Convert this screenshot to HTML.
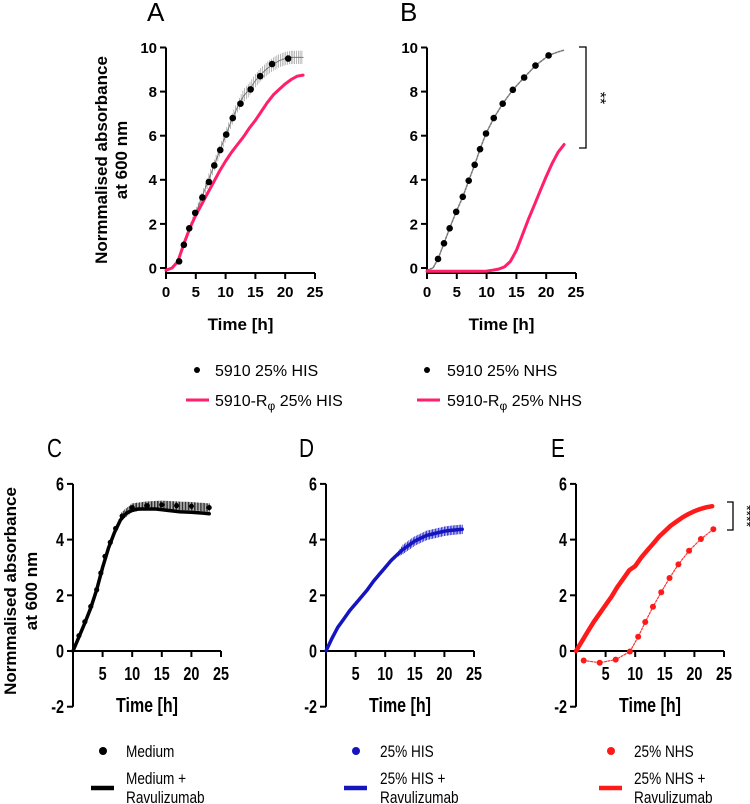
<!DOCTYPE html>
<html><head><meta charset="utf-8"><style>
html,body{margin:0;padding:0;background:#fff;}
svg{display:block;}
.t{font-family:"Liberation Sans",Arial,sans-serif;}
.n{font-family:"Liberation Sans Narrow","Liberation Sans",Arial,sans-serif;}
</style></head><body>
<svg id="fig" width="750" height="804" viewBox="0 0 750 804" xmlns="http://www.w3.org/2000/svg">
<g id="root"></g>
</svg>
<script>
// ---- data ----
const aDotT = [2.2,3,3.9,4.9,6.1,7.2,8.1,9.1,10.1,11.2,12.5,14.2,15.8,17.8,20.5];
const aDotV = [0.3,1.05,1.8,2.5,3.2,3.9,4.65,5.35,6.05,6.8,7.45,8.1,8.7,9.25,9.5];
const aMeanT = [0,1,2,3,4,5,6,7,8,9,10,11,12,13,14,15,16,17,18,19,20,21,22,23];
const aMeanV = [-0.1,0,0.25,1.05,1.8,2.5,3.2,3.9,4.6,5.3,6.0,6.7,7.3,7.8,8.1,8.5,8.8,9.05,9.25,9.4,9.5,9.55,9.55,9.55];
const aMeanSd = [0,0,0.05,0.1,0.15,0.2,0.2,0.25,0.25,0.25,0.25,0.25,0.25,0.3,0.3,0.3,0.3,0.3,0.3,0.3,0.3,0.3,0.3,0.3];
const aPinkT = [0,1,2,3,4,5,6,7,8,9,10,11,12,13,14,15,16,17,18,19,20,21,22,23];
const aPinkV = [-0.1,0,0.3,1.1,1.8,2.4,2.9,3.4,3.9,4.4,4.85,5.25,5.6,5.95,6.35,6.7,7.1,7.5,7.85,8.1,8.35,8.55,8.7,8.75];

const bDotT = [1.85,2.85,3.8,4.9,6.0,7.0,8.0,8.9,9.9,11.2,12.7,14.4,16.3,18.2,20.4];
const bDotV = [0.41,1.12,1.8,2.55,3.23,3.96,4.68,5.39,6.1,6.8,7.45,8.08,8.64,9.18,9.64];
const bLineT = [0,1,1.85,2.85,3.8,4.9,6.0,7.0,8.0,8.9,9.9,11.2,12.7,14.4,16.3,18.2,20.4,22,23];
const bLineV = [-0.1,0,0.41,1.12,1.8,2.55,3.23,3.96,4.68,5.39,6.1,6.8,7.45,8.08,8.64,9.18,9.64,9.8,9.88];
const bPinkT = [0,2,4,6,8,10,11,12,13,14,15,16,17,18,19,20,21,22,23];
const bPinkV = [-0.15,-0.15,-0.15,-0.15,-0.15,-0.14,-0.1,-0.05,0.05,0.3,0.8,1.5,2.2,2.85,3.5,4.15,4.75,5.25,5.6];

const cLineT = [0,1,2,3,4,5,6,7,8,9,10,11,12,14,16,18,20,22,23];
const cLineV = [0,0.5,1.0,1.55,2.2,3.0,3.7,4.25,4.7,4.95,5.05,5.1,5.1,5.1,5.05,5.0,4.98,4.95,4.93];
const cDotT = [1,2,3,4,4.7,5.4,6.3,7.2,8.3,10,12.5,15,17.5,20,23];
const cDotV = [0.55,1.05,1.6,2.2,2.8,3.4,3.9,4.4,4.85,5.15,5.22,5.25,5.22,5.2,5.15];

const dLineT = [0,1,2,3,4,5,6,7,8,9,10,11,12,13,14,15,16,17,18,19,20,21,22,23];
const dLineV = [0,0.45,0.85,1.15,1.45,1.7,1.95,2.2,2.5,2.75,3.0,3.25,3.45,3.65,3.8,3.95,4.05,4.15,4.2,4.25,4.3,4.33,4.35,4.37];

const eLineT = [0,1,2,3,4,5,6,7,8,9,10,11,12,13,14,15,16,17,18,19,20,21,22,23];
const eLineV = [0,0.35,0.7,1.05,1.35,1.65,1.95,2.3,2.6,2.9,3.05,3.35,3.6,3.85,4.1,4.3,4.5,4.65,4.8,4.92,5.02,5.1,5.16,5.2];
const eDotT = [1.3,4.0,6.7,9.1,10.5,11.7,13.0,14.4,15.8,17.3,19.1,21.1,23.2];
const eDotV = [-0.34,-0.42,-0.31,-0.02,0.51,1.04,1.59,2.11,2.62,3.11,3.6,4.02,4.37];

const topYTicks = [0,2,4,6,8,10];
const botYTicks = [-2,0,2,4,6];
const xTicks = [0,5,10,15,20,25];

// ---- helpers ----
const NS = "http://www.w3.org/2000/svg";
const root = document.getElementById('root');
function mk(tag, attrs, parent, txt){
  const e = document.createElementNS(NS, tag);
  for (const k in attrs) e.setAttribute(k, attrs[k]);
  if (txt !== undefined) e.textContent = txt;
  (parent||root).appendChild(e);
  return e;
}
function path(xs, ys, sx, sy){
  return xs.map((t,i)=>(i?'L':'M')+sx(t).toFixed(1)+','+sy(ys[i]).toFixed(1)).join(' ');
}
function interp(ts, vs, t){
  if (t<=ts[0]) return vs[0];
  for (let i=1;i<ts.length;i++){ if (t<=ts[i]){ const f=(t-ts[i-1])/(ts[i]-ts[i-1]); return vs[i-1]+f*(vs[i]-vs[i-1]); } }
  return vs[vs.length-1];
}

function axes(g, cfg){
  const {sx, sy, yTicks, yMax, xAxisY, cls, fs, showX0} = cfg;
  const ya = mk('path',{d:`M${sx(0)},${sy(yMax)} L${sx(0)},${cfg.yAxisBottom}`,stroke:'#000','stroke-width':2,fill:'none'},g);
  
  
  yTicks.forEach(v=>{
    const tk = mk('line',{x1:sx(0)-6,x2:sx(0),y1:sy(v),y2:sy(v),stroke:'#000','stroke-width':2},g);
    
    
    const tl = mk('text',{x:sx(0)-9,y:sy(v)+fs*0.36,'text-anchor':'end','font-size':fs,'font-weight':'bold',class:cls},g,String(v));
    
    
  });
  const xa = mk('path',{d:`M${sx(0)-1},${xAxisY} L${sx(25)},${xAxisY}`,stroke:'#000','stroke-width':2,fill:'none'},g);
  
  
  xTicks.forEach(t=>{
    const tk = mk('line',{x1:sx(t),x2:sx(t),y1:xAxisY,y2:xAxisY+6,stroke:'#000','stroke-width':2},g);
    
    
    if (t===0 && !showX0) return;
    const tl = mk('text',{x:sx(t),y:cfg.xLabY,'text-anchor':'middle','font-size':fs,'font-weight':'bold',class:cls},g,String(t));
    
    
  });
  const xt = mk('text',{x:(sx(0)+sx(25))/2+cfg.titleDx,y:cfg.xTitleY,'text-anchor':'middle','font-size':cfg.tfs,'font-weight':'bold',class:cls},g,'Time [h]');
  
  
}
function ytitle(g, cx1, cx2, cy, fs, cls){
  const t = mk('text',{transform:`translate(${cx1},${cy}) rotate(-90)`,'text-anchor':'middle','font-size':fs,'font-weight':'bold',class:cls},g,'Normmalised absorbance');
  
  
  const t2 = mk('text',{transform:`translate(${cx2},${cy}) rotate(-90)`,'text-anchor':'middle','font-size':fs,'font-weight':'bold',class:cls},g,'at 600 nm');
  
  
}
function letter(g, x, y, s, cls){
  const t = mk('text',{x:x,y:y,'font-size':26,class:cls},g,s);
  
  
}
function dots(g, ts, vs, sx, sy, r, col, name){
  ts.forEach((t,i)=>{
    const c = mk('circle',{cx:sx(t),cy:sy(vs[i]),r:r,fill:col},g);
    
    
  });
}
function line(g, ts, vs, sx, sy, col, w, dash, name){
  const p = mk('path',{d:path(ts,vs,sx,sy),stroke:col,'stroke-width':w,fill:'none','stroke-linejoin':'round','stroke-linecap':'round'},g);
  if (dash) p.setAttribute('stroke-dasharray',dash);
  
  
  return p;
}
function errbars(g, ts, vs, sds, sx, sy, col, step, w, name){
  let d='';
  for (let t=ts[0]; t<=ts[ts.length-1]; t+=step){
    const v=interp(ts,vs,t), s=interp(ts,sds,t);
    d+=`M${sx(t).toFixed(1)},${sy(v-s).toFixed(1)} L${sx(t).toFixed(1)},${sy(v+s).toFixed(1)} `;
  }
  const p = mk('path',{d:d,stroke:col,'stroke-width':w,fill:'none'},g);
  
  
}
function legendB(g, dx, tx, col, a, b1, b2, key){
  const c = mk('circle',{cx:dx,cy:751,r:4,fill:col},g);
   
  const t1 = mk('text',{x:tx,y:757,'font-size':17,class:'n'},g,a);
   
  const l = mk('line',{x1:dx-12,x2:dx+11,y1:788,y2:788,stroke:col,'stroke-width':4.5},g);
   
  const t2 = mk('text',{x:tx,y:784,'font-size':17,class:'n'},g,b1);
   
  const t3 = mk('text',{x:tx,y:803,'font-size':17,class:'n'},g,b2);
   
}

// ---- Panel A ----
(function(){
  const g = mk('g',{});
  
  
  const sx = t=>166+t*5.96, sy = v=>268-v*22.05;
  letter(g,147,21,'A','t');
  ytitle(g,107,127,160,17,'t');
  axes(g,{sx,sy,yTicks:topYTicks,yMax:10,xAxisY:273,yAxisBottom:273,cls:'t',fs:15,xLabY:297,xTitleY:330,tfs:17,titleDx:0,showX0:true});
  errbars(g,aMeanT,aMeanV,aMeanSd,sx,sy,'#8a8a8a',0.3,0.6,'error-bars-5910-his');
  line(g,aMeanT,aMeanV,sx,sy,'#777',1,null,'line-5910-his');
  line(g,aPinkT,aPinkV,sx,sy,'#ff1f6b',3,null,'line-5910-r-his');
  dots(g,aDotT,aDotV,sx,sy,3.3,'#000','point-5910-his');
  const c = mk('circle',{cx:197,cy:370,r:3,fill:'#000'},g);
   
  const t1 = mk('text',{x:215,y:376,'font-size':16,class:'t'},g,'5910 25% HIS');
   
  const l = mk('line',{x1:186,x2:209,y1:400,y2:400,stroke:'#ff1f6b','stroke-width':3},g);
   
  const t2 = mk('text',{x:215,y:406,'font-size':16,class:'t'},g);
   
  t2.innerHTML = '5910-R<tspan font-size="12" dy="4">φ</tspan><tspan dy="-4"> 25% HIS</tspan>';
})();

// ---- Panel B ----
(function(){
  const g = mk('g',{});
  
  
  const sx = t=>427+t*5.96, sy = v=>268-v*22.05;
  letter(g,400,21,'B','t');
  axes(g,{sx,sy,yTicks:topYTicks,yMax:10,xAxisY:273,yAxisBottom:273,cls:'t',fs:15,xLabY:297,xTitleY:330,tfs:17,titleDx:0,showX0:true});
  line(g,bLineT,bLineV,sx,sy,'#777',1.5,'2,1.5','line-5910-nhs');
  line(g,bPinkT,bPinkV,sx,sy,'#ff1f6b',3,null,'line-5910-r-nhs');
  dots(g,bDotT,bDotV,sx,sy,3.3,'#000','point-5910-nhs');
  const br = mk('path',{d:'M579,47 L586,47 L586,148 L579,148',stroke:'#000','stroke-width':1.3,fill:'none'},g);
   
  const st = mk('text',{transform:'translate(595,98) rotate(90)','text-anchor':'middle','font-size':16,class:'t'},g,'**');
   
  const c = mk('circle',{cx:427,cy:370,r:3,fill:'#000'},g);
   
  const t1 = mk('text',{x:447,y:376,'font-size':16,class:'t'},g,'5910 25% NHS');
   
  const l = mk('line',{x1:417,x2:440,y1:400,y2:400,stroke:'#ff1f6b','stroke-width':3},g);
   
  const t2 = mk('text',{x:447,y:406,'font-size':16,class:'t'},g);
   
  t2.innerHTML = '5910-R<tspan font-size="12" dy="4">φ</tspan><tspan dy="-4"> 25% NHS</tspan>';
})();

// ---- bottom panels ----
function bottom(name, x0){
  const g = mk('g',{});
  
  
  const sx = t=>x0+t*5.92, sy = v=>651-v*27.85;
  axes(g,{sx,sy,yTicks:botYTicks,yMax:6,xAxisY:651,yAxisBottom:sy(-2),cls:'n',fs:18,xLabY:680,xTitleY:712,tfs:20,titleDx:0,showX0:false});
  return {g,sx,sy};
}
(function(){
  const {g,sx,sy} = bottom('c',73);
  letter(g,47,457,'C','n');
  ytitle(g,16,37,591,17,'t');
  errbars(g,cDotT,cDotV,cDotV.map(v=>v>4.5?0.15:0.05),sx,sy,'#000',0.25,0.8,'error-bars-medium');
  line(g,cLineT,cLineV,sx,sy,'#000',3.5,null,'line-medium-ravulizumab');
  dots(g,cDotT,cDotV,sx,sy,2.6,'#000','point-medium');
  legendB(g,103,126,'#000','Medium','Medium +','Ravulizumab','medium');
})();
(function(){
  const {g,sx,sy} = bottom('d',326);
  letter(g,299,457,'D','n');
  errbars(g,dLineT,dLineV,dLineV.map(v=>v>3.5?0.17:0.08),sx,sy,'#1010cc',0.25,0.8,'error-bars-his-ravulizumab');
  line(g,dLineT,dLineV,sx,sy,'#1515c0',3.5,null,'line-his-ravulizumab');
  legendB(g,356,380,'#1515c0','25% HIS','25% HIS +','Ravulizumab','his');
})();
(function(){
  const {g,sx,sy} = bottom('e',576);
  letter(g,551,457,'E','n');
  line(g,eDotT,eDotV,sx,sy,'#ff3030',1.2,'2,1.5','line-nhs');
  dots(g,eDotT,eDotV,sx,sy,3,'#ff1a1a','point-nhs');
  line(g,eLineT,eLineV,sx,sy,'#ff1a1a',4.5,null,'line-nhs-ravulizumab');
  const br = mk('path',{d:'M727,502 L733,502 L733,530 L727,530',stroke:'#000','stroke-width':1.3,fill:'none'},g);
   
  const st = mk('text',{transform:'translate(742,516) rotate(90)','text-anchor':'middle','font-size':14,class:'t'},g,'****');
   
  legendB(g,611,634,'#ff1a1a','25% NHS','25% NHS +','Ravulizumab','nhs');
})();

// condense the bottom-panel text (narrow font look)
document.querySelectorAll('text.n').forEach(t=>{
  const w = t.getComputedTextLength();
  if (w>0){
    t.setAttribute('textLength',(w*0.8).toFixed(1));
    t.setAttribute('lengthAdjust','spacingAndGlyphs');
  }
});
</script>
</body></html>
